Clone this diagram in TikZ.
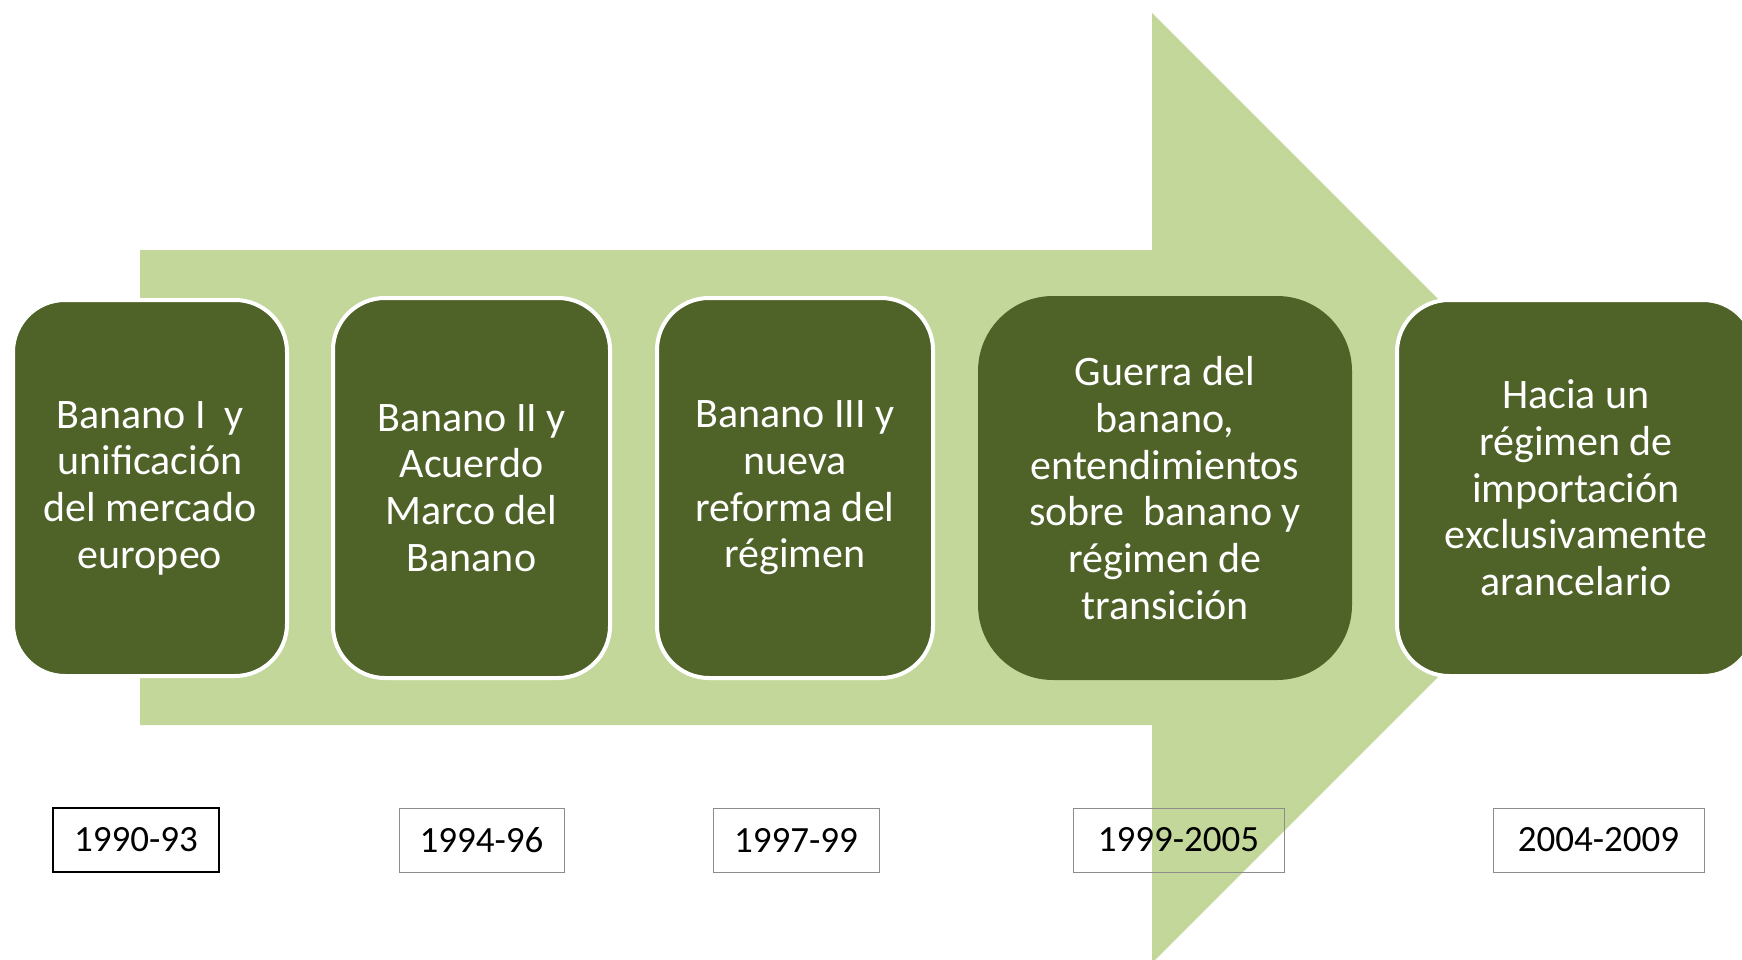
\documentclass[tikz,border=0pt]{standalone}
\usepackage{fontspec}
\setmainfont{Carlito}
\usepackage{tikz}
\usetikzlibrary{positioning}

\definecolor{arrowgreen}{HTML}{C4D79B}
\definecolor{olivedark}{HTML}{4F6228}

\begin{document}
\begin{tikzpicture}[x=1pt, y=-1pt,
        stage/.style={rectangle, fill=olivedark, draw=white, line width=4pt, rounded corners=52pt,
            text=white, align=center, font=\fontsize{42}{46.7}\selectfont, inner sep=0pt},
        period/.style={rectangle, draw=gray!90, line width=1pt, minimum height=64pt,
            align=center, font=\fontsize{37}{44}\selectfont, inner sep=0pt}
    ]
        \useasboundingbox (0,0) rectangle (1742,960);
        \clip (0,0) rectangle (1742,960);

        % big background arrow
        \fill [arrowgreen] (140,250) -- (1152,250) -- (1152,13) -- (1627,488)
            -- (1152,963) -- (1152,725) -- (140,725) -- cycle;

        % stages
        \node [stage, minimum width=274pt, minimum height=376pt] (banI) at (150,488)
            {Banano I~ y\\unificación\\del mercado\\europeo};
        \node [stage, minimum width=277pt, minimum height=380pt] (banII) at (471.5,488)
            {Banano II y\\Acuerdo\\Marco del\\Banano};
        \node [stage, minimum width=276pt, minimum height=380pt] (banIII) at (795,488)
            {Banano III y\\nueva\\reforma del\\régimen};
        \node [stage, draw=none, rounded corners=75pt, minimum width=374pt, minimum height=384pt] (guerra) at (1165,488)
            {Guerra del\\banano,\\entendimientos\\sobre~ banano y\\régimen de\\transición};
        \node [stage, minimum width=358pt, minimum height=376pt] (hacia) at (1576,488)
            {Hacia un\\régimen de\\importación\\exclusivamente\\arancelario};

        % periods
        \node [period, draw=black, line width=2pt, minimum width=166pt] (p1) at (136,840) {1990-93};
        \node [period, minimum width=165pt] (p2) at (481.5,840) {1994-96};
        \node [period, minimum width=166pt] (p3) at (796,840) {1997-99};
        \node [period, minimum width=211pt] (p4) at (1178.5,840) {1999-2005};
        \node [period, minimum width=211pt] (p5) at (1598.5,840) {2004-2009};
    \end{tikzpicture}
\end{document}
